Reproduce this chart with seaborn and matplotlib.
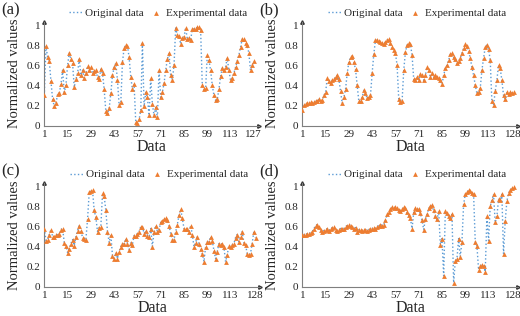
import numpy as np
import pandas as pd
import matplotlib.pyplot as plt
import seaborn as sns

# normalized values, one list per panel
vals_a = [0.30, 0.79, 0.68, 0.64, 0.44, 0.26, 0.19, 0.22, 0.31, 0.32,
          0.41, 0.55, 0.33, 0.40, 0.60, 0.72, 0.66, 0.62, 0.38, 0.46,
          0.52, 0.66, 0.50, 0.55, 0.47, 0.52, 0.59, 0.55, 0.58, 0.52,
          0.54, 0.55, 0.48, 0.46, 0.56, 0.52, 0.36, 0.14, 0.12, 0.17,
          0.32, 0.50, 0.58, 0.62, 0.45, 0.20, 0.23, 0.63, 0.77, 0.80,
          0.79, 0.68, 0.48, 0.36, 0.41, 0.03, 0.02, 0.06, 0.15, 0.82,
          0.19, 0.33, 0.28, 0.10, 0.47, 0.21, 0.10, 0.18, 0.08, 0.55,
          0.28, 0.33, 0.42, 0.55, 0.66, 0.72, 0.50, 0.45, 0.60, 0.97,
          0.90, 0.89, 0.81, 0.87, 0.88, 0.97, 0.86, 0.87, 0.85, 0.96,
          0.96, 0.96, 0.98, 0.98, 0.95, 0.40, 0.36, 0.37, 0.70, 0.65,
          0.55, 0.40, 0.30, 0.25, 0.26, 0.36, 0.49, 0.57, 0.55, 0.58,
          0.67, 0.55, 0.45, 0.47, 0.52, 0.58, 0.64, 0.70, 0.78, 0.86,
          0.86, 0.82, 0.80, 0.72, 0.55, 0.60, 0.64]

vals_b = [0.15, 0.20, 0.21, 0.22, 0.22, 0.23, 0.22, 0.23, 0.24, 0.24,
          0.26, 0.24, 0.25, 0.30, 0.33, 0.47, 0.44, 0.42, 0.45, 0.46,
          0.48, 0.50, 0.46, 0.34, 0.22, 0.28, 0.36, 0.52, 0.63, 0.68,
          0.69, 0.63, 0.56, 0.40, 0.24, 0.24, 0.28, 0.35, 0.32, 0.27,
          0.28, 0.30, 0.52, 0.71, 0.85, 0.85, 0.84, 0.83, 0.82, 0.81,
          0.83, 0.85, 0.86, 0.82, 0.78, 0.75, 0.72, 0.60, 0.26, 0.23,
          0.24, 0.55, 0.73, 0.80, 0.82, 0.81, 0.70, 0.46, 0.45, 0.48,
          0.45, 0.51, 0.50, 0.45, 0.50, 0.58, 0.55, 0.48, 0.52, 0.48,
          0.50, 0.48, 0.47, 0.45, 0.41, 0.50, 0.57, 0.60, 0.65, 0.71,
          0.72, 0.68, 0.66, 0.62, 0.64, 0.67, 0.72, 0.77, 0.81, 0.79,
          0.74, 0.67, 0.58, 0.50, 0.40, 0.32, 0.33, 0.37, 0.55, 0.67,
          0.78, 0.80, 0.76, 0.65, 0.24, 0.20, 0.34, 0.45, 0.60, 0.57,
          0.45, 0.30, 0.26, 0.33, 0.31, 0.33, 0.32, 0.33]

vals_c = [0.58, 0.46, 0.47, 0.52, 0.57, 0.50, 0.50, 0.52, 0.52, 0.53,
          0.57, 0.58, 0.44, 0.41, 0.34, 0.38, 0.43, 0.47, 0.41, 0.50,
          0.56, 0.61, 0.56, 0.49, 0.48, 0.47, 0.67, 0.94, 0.95, 0.96,
          0.76, 0.69, 0.55, 0.59, 0.60, 0.93, 0.90, 0.76, 0.55, 0.44,
          0.52, 0.31, 0.28, 0.34, 0.28, 0.35, 0.40, 0.43, 0.43, 0.48,
          0.43, 0.37, 0.44, 0.42, 0.51, 0.51, 0.53, 0.55, 0.60, 0.60,
          0.53, 0.56, 0.51, 0.50, 0.58, 0.40, 0.55, 0.61, 0.55, 0.57,
          0.64, 0.65, 0.67, 0.68, 0.66, 0.61, 0.53, 0.47, 0.47, 0.55,
          0.62, 0.71, 0.77, 0.68, 0.58, 0.58, 0.58, 0.55, 0.61, 0.52,
          0.40, 0.44, 0.50, 0.43, 0.38, 0.33, 0.25, 0.40, 0.45, 0.45,
          0.50, 0.46, 0.36, 0.28, 0.35, 0.43, 0.42, 0.43, 0.40, 0.25,
          0.32, 0.41, 0.40, 0.42, 0.43, 0.49, 0.52, 0.45, 0.50, 0.55,
          0.44, 0.42, 0.33, 0.32, 0.33, 0.43, 0.55, 0.49]

vals_d = [0.52, 0.52, 0.52, 0.53, 0.53, 0.54, 0.55, 0.58, 0.61, 0.62,
          0.60, 0.57, 0.55, 0.56, 0.57, 0.58, 0.56, 0.58, 0.59, 0.60,
          0.57, 0.56, 0.57, 0.58, 0.58, 0.58, 0.60, 0.61, 0.62, 0.61,
          0.60, 0.58, 0.59, 0.55, 0.57, 0.57, 0.56, 0.57, 0.57, 0.56,
          0.57, 0.58, 0.58, 0.59, 0.58, 0.60, 0.61, 0.62, 0.61, 0.62,
          0.66, 0.72, 0.74, 0.77, 0.79, 0.78, 0.79, 0.78, 0.76, 0.75,
          0.77, 0.79, 0.78, 0.74, 0.71, 0.68, 0.58, 0.74, 0.78, 0.77,
          0.77, 0.73, 0.66, 0.57, 0.67, 0.72, 0.78, 0.80, 0.81, 0.76,
          0.70, 0.67, 0.75, 0.42, 0.48, 0.11, 0.75, 0.73, 0.70, 0.68,
          0.72, 0.04, 0.26, 0.28, 0.48, 0.30, 0.45, 0.82, 0.92, 0.94,
          0.96, 0.95, 0.93, 0.92, 0.45, 0.41, 0.17, 0.21, 0.22, 0.21,
          0.15, 0.70, 0.46, 0.80, 0.86, 0.92, 0.64, 0.70, 0.87, 0.86,
          0.92, 0.33, 0.65, 0.85, 0.93, 0.96, 0.98, 0.99]

panels = ['(a)', '(b)', '(c)', '(d)']
y_ticks = [0, 0.2, 0.4, 0.6, 0.8, 1]
y_tick_labels = ['0', '0.2', '0.4', '0.6', '0.8', '1']

line_color = '#5B9BD5'
marker_color = '#ED7D31'

sns.set_style('white')
plt.rcParams['font.family'] = ['Liberation Serif', 'DejaVu Serif']

fig = plt.figure(figsize=(5.2, 3.16), dpi=100)
W, H = 520, 316

# axes placement in pixels: left, bottom(of y=0)
places = [(44.3, 190.5), (302.3, 190.5), (44.3, 29.2), (302.3, 29.2)]
all_vals = [vals_a, vals_b, vals_c, vals_d]

for vals, label, (lx, by) in zip(all_vals, panels, places):
    n = len(vals)
    xmax = n + 3
    px_per_unit = 1.663
    ax = fig.add_axes([lx / W, by / H, (xmax - 1) * px_per_unit / W, 104.0 / H])
    df = pd.DataFrame({'idx': np.arange(1, n + 1), 'val': vals})

    sns.lineplot(data=df, x='idx', y='val', ax=ax, color=line_color,
                 linestyle=':', linewidth=1.0, label='Original data')
    sns.scatterplot(data=df, x='idx', y='val', ax=ax, color=marker_color,
                    marker='^', s=12, linewidth=0, label='Experimental data',
                    zorder=3)

    ax.set_xlim(1, xmax)
    ax.set_ylim(0, 1.035)
    xt = [t for t in range(1, 114, 14)] + [n]
    ax.set_xticks(xt)
    ax.set_xticklabels([str(t) for t in xt], fontsize=8)
    ax.set_yticks(y_ticks)
    ax.set_yticklabels(y_tick_labels, fontsize=8)
    ax.tick_params(length=0, pad=3)

    ax.set_xlabel('Data', fontsize=11.5, labelpad=0)
    ax.set_ylabel('Normalized values', fontsize=10.5, labelpad=4)

    for s in ['top', 'right']:
        ax.spines[s].set_visible(False)
    for s in ['left', 'bottom']:
        ax.spines[s].set_color('#7f7f7f')
        ax.spines[s].set_linewidth(0.8)
    # arrow heads on the axis lines
    ax.plot(1, 0, '>', color='#333333', ms=2.5, transform=ax.transAxes, clip_on=False)
    ax.plot(0, 1, '^', color='#333333', ms=2.5, transform=ax.transAxes, clip_on=False)

    ax.legend(loc='lower center', bbox_to_anchor=(0.53, 0.99), ncol=2,
              frameon=False, fontsize=8, handlelength=1.2, handletextpad=0.3,
              columnspacing=0.5, borderaxespad=0, markerscale=1.0)

    ax.text(-0.2, 1.11, label, transform=ax.transAxes, fontsize=12,
            ha='left', va='center')

fig.savefig('out.png', dpi=100)
